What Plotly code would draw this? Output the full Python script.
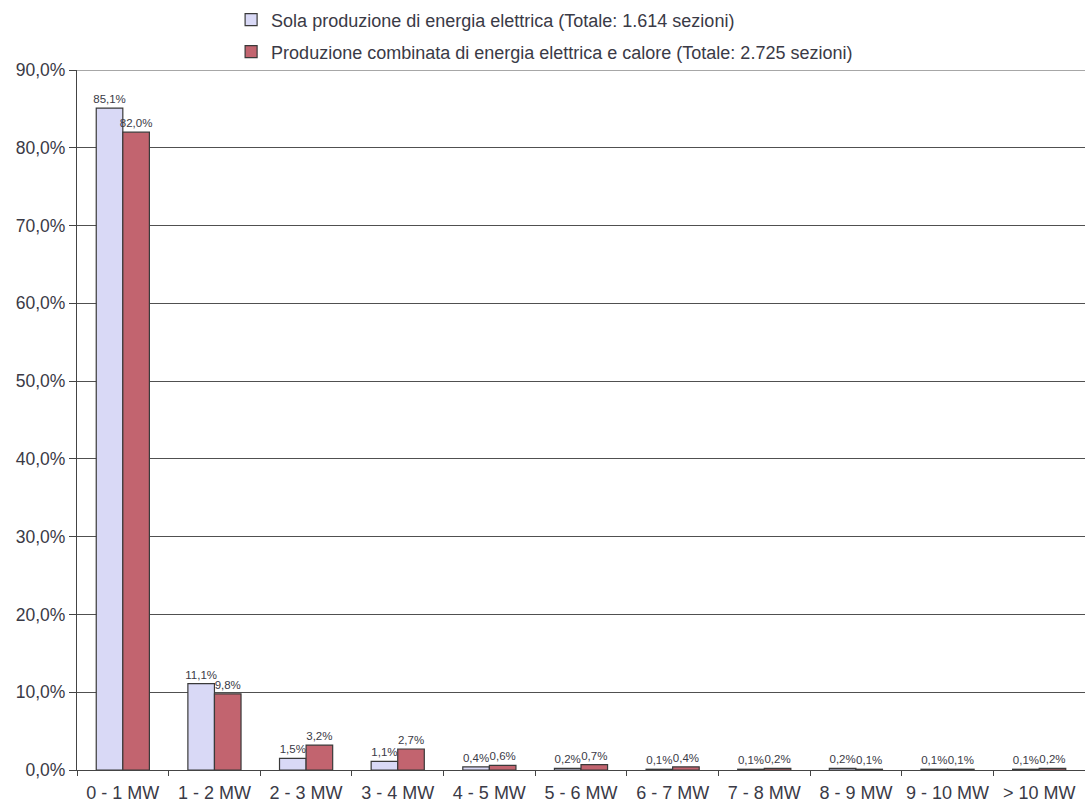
import plotly.graph_objects as go

categories = ["0 - 1 MW", "1 - 2 MW", "2 - 3 MW", "3 - 4 MW", "4 - 5 MW", "5 - 6 MW",
              "6 - 7 MW", "7 - 8 MW", "8 - 9 MW", "9 - 10 MW", "> 10 MW"]
sola_elettrica = [85.1, 11.1, 1.5, 1.1, 0.4, 0.2, 0.1, 0.1, 0.2, 0.1, 0.1]
combinata = [82.0, 9.8, 3.2, 2.7, 0.6, 0.7, 0.4, 0.2, 0.1, 0.1, 0.2]
y_ticks = [0, 10, 20, 30, 40, 50, 60, 70, 80, 90]
y_tick_labels = ["0,0%", "10,0%", "20,0%", "30,0%", "40,0%", "50,0%",
                 "60,0%", "70,0%", "80,0%", "90,0%"]

name_sola = "Sola produzione di energia elettrica (Totale: 1.614 sezioni)"
name_comb = "Produzione combinata di energia elettrica e calore (Totale: 2.725 sezioni)"

txt = "#3a3a46"
grid = "#505050"
font_family = "Liberation Sans, Arial, sans-serif"


def pct(values):
    return [f"{v:.1f}%".replace(".", ",") for v in values]


fig = go.Figure()
fig.add_trace(go.Bar(
    x=categories, y=sola_elettrica, name=name_sola,
    marker=dict(color="#d9d9f6", line=dict(color="#3a3a3a", width=1.2)),
    text=pct(sola_elettrica), textposition="outside", constraintext="none",
    textfont=dict(size=11.5, color=txt, family=font_family),
    cliponaxis=False, legend="legend", showlegend=True,
))
fig.add_trace(go.Bar(
    x=categories, y=combinata, name=name_comb,
    marker=dict(color="#c2646f", line=dict(color="#3a3a3a", width=1.2)),
    text=pct(combinata), textposition="outside", constraintext="none",
    textfont=dict(size=11.5, color=txt, family=font_family),
    cliponaxis=False, legend="legend2", showlegend=True,
))

legend_common = dict(
    xref="container", yref="container", xanchor="left", yanchor="middle",
    bgcolor="rgba(0,0,0,0)", font=dict(size=18, color=txt, family=font_family),
    itemwidth=30, visible=True,
)

# top border of the plotting area, level with the 90% gridline
fig.add_shape(type="line", xref="paper", yref="y", x0=0, x1=1, y0=90, y1=90,
              line=dict(color=grid, width=1), layer="below")

fig.update_layout(
    width=1085, height=806,
    margin=dict(l=77, r=0, t=70, b=36, autoexpand=False),
    paper_bgcolor="white", plot_bgcolor="white",
    showlegend=True,
    barmode="group", bargap=0.42, bargroupgap=0.0,
    uniformtext=dict(mode=False),
    font=dict(family=font_family, color=txt),
    legend=dict(x=0.213, y=1 - 20 / 806, **legend_common),
    legend2=dict(x=0.213, y=1 - 52 / 806, **legend_common),
    xaxis=dict(
        showgrid=False, showline=True, linecolor="#444", linewidth=1.2,
        ticks="outside", tickson="boundaries", ticklen=5, tickcolor="#444",
        tickfont=dict(size=18, color=txt), tickangle=0, automargin=False,
        ticklabelstandoff=6,
    ),
    yaxis=dict(
        range=[0, 90], tickvals=y_ticks, ticktext=y_tick_labels,
        showgrid=True, gridcolor=grid, gridwidth=1,
        showline=True, linecolor="#444", linewidth=1.2,
        ticks="outside", ticklen=7, tickcolor="#444",
        tickfont=dict(size=17.5, color=txt), zeroline=False, automargin=False,
    ),
)

fig.write_html("out.html")
